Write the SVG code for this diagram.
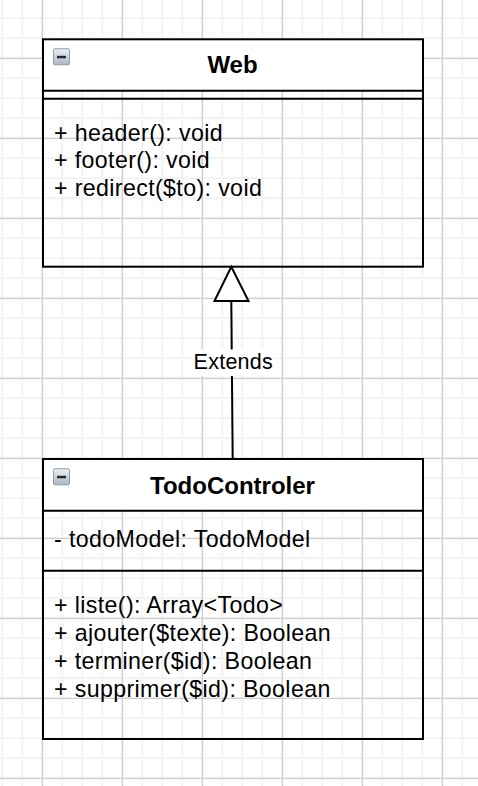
<svg xmlns="http://www.w3.org/2000/svg" width="478" height="786" viewBox="0 0 478 786">
  <style>
    .box { fill: none; stroke: #000; stroke-width: 2; }
    .hdr { fill: #fff; stroke: none; }
    .sep { stroke: #000; stroke-width: 2; fill: none; }
    .title { font-family: "Liberation Sans", Arial, Helvetica, sans-serif; font-size: 24px; font-weight: bold; fill: #000; text-anchor: middle; }
    .member { font-family: "Liberation Sans", Arial, Helvetica, sans-serif; font-size: 23.2px; letter-spacing: 0.37px; fill: #000; }
    .label { font-family: "Liberation Sans", Arial, Helvetica, sans-serif; font-size: 21.5px; letter-spacing: 0.25px; fill: #000; text-anchor: middle; }
    .edge { stroke: #000; stroke-width: 2; fill: none; }
  </style>
  <defs>
    <pattern id="minor" patternUnits="userSpaceOnUse" x="1.3" y="17.3" width="20" height="20">
      <rect x="0" y="0" width="2" height="20" fill="#f2f2f2"/>
      <rect x="0" y="0" width="20" height="2" fill="#f2f2f2"/>
    </pattern>
    <pattern id="major" patternUnits="userSpaceOnUse" x="41.8" y="57.8" width="80" height="80">
      <rect x="0" y="0" width="1" height="80" fill="#c8c8c8"/>
      <rect x="0" y="0" width="80" height="1" fill="#c8c8c8"/>
    </pattern>
    <linearGradient id="iconGrad" x1="0" y1="0" x2="0" y2="1">
      <stop offset="0" stop-color="#eef1f5"/>
      <stop offset="1" stop-color="#aab6c4"/>
    </linearGradient>
    <g id="collapse">
      <rect x="0.5" y="0.5" width="16" height="16" rx="1.5" fill="url(#iconGrad)" stroke="#8c9aab" stroke-width="1"/>
      <rect x="4" y="7.5" width="9" height="2.5" fill="#2a2a2a"/>
    </g>
  </defs>

  <rect width="478" height="786" fill="#fff"/>
  <rect width="478" height="786" fill="url(#minor)"/>
  <rect width="478" height="786" fill="url(#major)"/>

  <g id="connectors">
    <g id="extends-edge">
      <line class="edge" x1="232.7" y1="459" x2="231.3" y2="301"/>
      <polygon points="231.3,266.7 214.5,301 248.5,301" fill="#fff" stroke="#000" stroke-width="2" stroke-linejoin="miter"/>
      <rect x="192" y="349.5" width="82" height="26.5" fill="#fff"/>
      <text class="label" x="233.3" y="369.3">Extends</text>
    </g>
  </g>

  <g id="node-web">
    <rect class="hdr" x="43" y="39.3" width="380" height="51.4"/>
    <rect class="box" x="43" y="39.3" width="380" height="227.4"/>
    <line class="sep" x1="43" y1="90.7" x2="423" y2="90.7"/>
    <line class="sep" x1="43" y1="98.7" x2="423" y2="98.7"/>
    <use href="#collapse" x="53" y="48.3"/>
    <text class="title" x="232.5" y="73.3">Web</text>
    <text class="member" x="54" y="140.7">+ header(): void</text>
    <text class="member" x="54" y="168.3">+ footer(): void</text>
    <text class="member" x="54" y="196">+ redirect($to): void</text>
  </g>

  <g id="node-todocontroler">
    <rect class="hdr" x="43" y="459" width="380" height="51.7"/>
    <rect class="box" x="43" y="459" width="380" height="280"/>
    <line class="sep" x1="43" y1="510.7" x2="423" y2="510.7"/>
    <line class="sep" x1="43" y1="570.7" x2="423" y2="570.7"/>
    <use href="#collapse" x="53" y="468.3"/>
    <text class="title" x="232.5" y="493.5">TodoControler</text>
    <text class="member" x="54" y="546.7">- todoModel: TodoModel</text>
    <text class="member" x="54" y="613.3">+ liste(): Array&lt;Todo&gt;</text>
    <text class="member" x="54" y="641.2">+ ajouter($texte): Boolean</text>
    <text class="member" x="54" y="669.2">+ terminer($id): Boolean</text>
    <text class="member" x="54" y="697">+ supprimer($id): Boolean</text>
  </g>
</svg>
